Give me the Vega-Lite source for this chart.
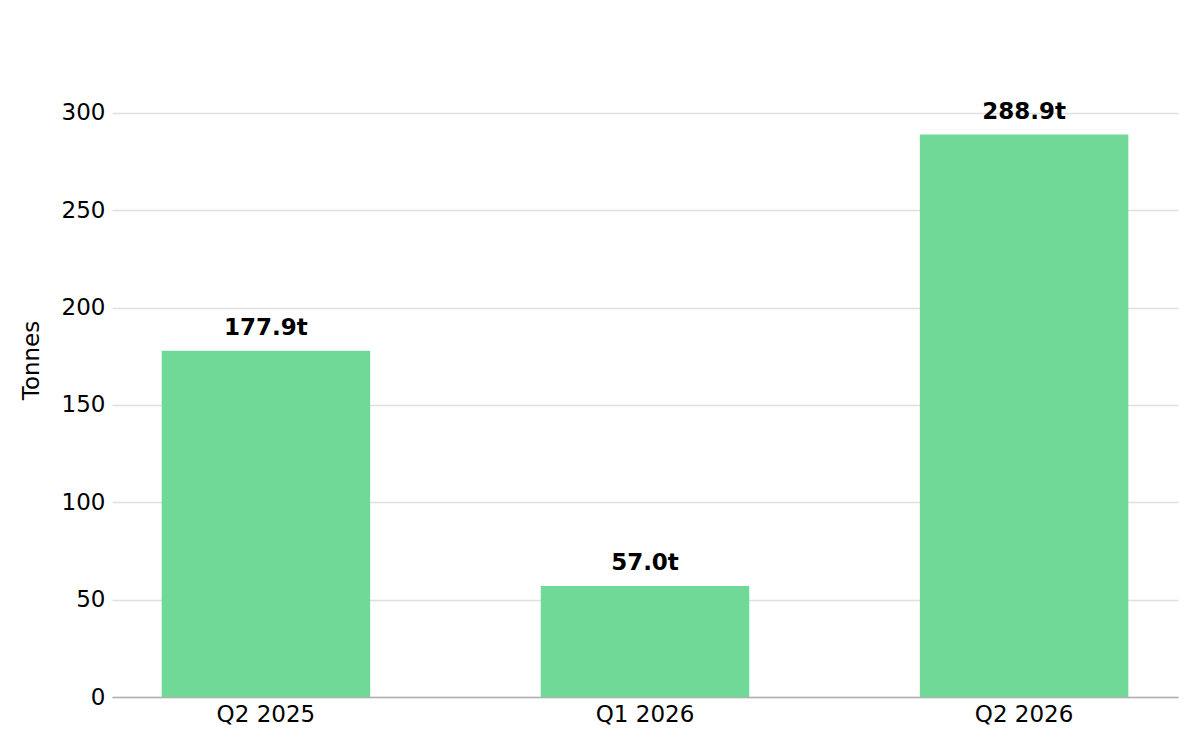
{
  "$schema": "https://vega.github.io/schema/vega-lite/v6.json",
  "autosize": {"type": "none"},
  "padding": {"left": 112, "top": 23, "right": 22, "bottom": 53},
  "width": 1066,
  "height": 674,
  "background": "white",
  "config": {
    "font": "DejaVu Sans",
    "view": {"stroke": null}
  },
  "data": {
    "values": [
      {"quarter": "Q2 2025", "tonnes": 177.9},
      {"quarter": "Q1 2026", "tonnes": 57.0},
      {"quarter": "Q2 2026", "tonnes": 288.9}
    ]
  },
  "transform": [
    {"calculate": "format(datum.tonnes, '.1f') + 't'", "as": "label"}
  ],
  "encoding": {
    "x": {
      "field": "quarter",
      "type": "nominal",
      "sort": null,
      "scale": {"paddingInner": 0.45, "paddingOuter": 0.131},
      "axis": {
        "title": null,
        "labelAngle": 0,
        "labelFontSize": 23,
        "labelColor": "black",
        "labelPadding": 6,
        "ticks": false,
        "domainColor": "#b0b0b0",
        "domainWidth": 1.5
      }
    },
    "y": {
      "field": "tonnes",
      "type": "quantitative",
      "scale": {"domain": [0, 346.2], "nice": false},
      "axis": {
        "title": "Tonnes",
        "titleFontSize": 23,
        "titleFontWeight": "normal",
        "titleColor": "black",
        "titlePadding": 18,
        "values": [0, 50, 100, 150, 200, 250, 300],
        "labelFontSize": 23,
        "labelColor": "black",
        "labelPadding": 7,
        "ticks": false,
        "domain": false,
        "grid": true,
        "gridColor": "#e0e0e0",
        "gridWidth": 1.5
      }
    }
  },
  "layer": [
    {
      "mark": {"type": "bar", "color": "#71d998"}
    },
    {
      "mark": {
        "type": "text",
        "fontSize": 23,
        "fontWeight": "bold",
        "color": "black",
        "baseline": "alphabetic",
        "dy": -16
      },
      "encoding": {"text": {"field": "label"}}
    }
  ]
}
